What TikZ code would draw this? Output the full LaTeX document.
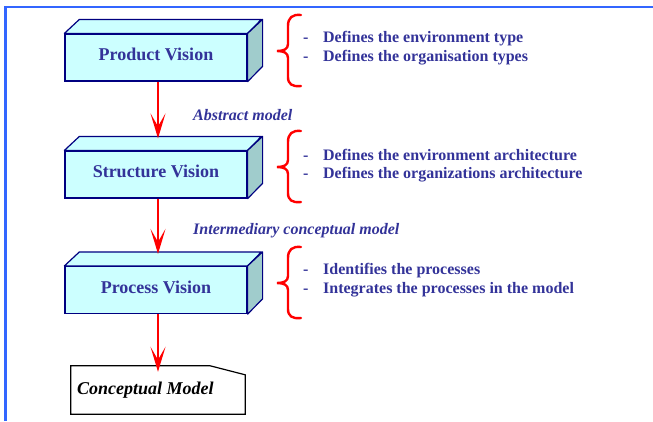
\documentclass[tikz,border=0pt]{standalone}
\usepackage{fontspec}
\setmainfont{Liberation Serif}
\usetikzlibrary{arrows.meta}
\definecolor{txtblue}{RGB}{51,51,153}
\definecolor{navy}{RGB}{0,0,128}
\definecolor{boxfront}{RGB}{204,255,255}
\definecolor{boxside}{RGB}{160,204,204}
\definecolor{framecol}{RGB}{51,102,255}
\tikzset{
  front/.style={draw=navy, line width=1.2pt, fill=boxfront, minimum width=182pt, minimum height=47pt,
    inner sep=0pt, text=txtblue, font=\fontsize{18}{21}\selectfont\bfseries},
  topface/.style={draw=navy, line width=1.2pt, fill=boxfront, line join=round},
  sideface/.style={draw=navy, line width=1.2pt, fill=boxside, line join=round},
  arr/.style={draw=red, line width=2pt, -{Stealth[length=25pt,width=15pt,inset=13pt]}},
  desc/.style={anchor=west, inner sep=0pt, text=txtblue, font=\fontsize{16}{19}\selectfont\bfseries},
  lbl/.style={anchor=west, inner sep=0pt, text=txtblue, font=\fontsize{16}{19}\selectfont\bfseries\itshape},
  bracestyle/.style={draw=red, line width=2.4pt, line cap=round},
  pics/curlyb/.style={code={
    \draw[bracestyle] (24,-36) .. controls (15,-37) and (11,-33) .. (11,-25) -- (11,-7)
      .. controls (11,-2) and (7,0) .. (0,0) .. controls (7,0) and (11,2) .. (11,7) -- (11,26)
      .. controls (11,33) and (15,36) .. (24,35);
  }}
}
\newcommand{\mkbox}[1]{%
  \draw[topface] (#1.north west) -- ++(15,-14) -- ++(182,0) -- (#1.north east) -- cycle;
  \draw[sideface] (#1.north east) -- ++(15,-14) -- ++(0,47) -- (#1.south east) -- cycle;
}
\newcommand{\lift}[1]{\raisebox{-3pt}[0pt][0pt]{#1}}
\begin{document}
\begin{tikzpicture}[x=1pt,y=-1pt]
\useasboundingbox (0,0) rectangle (653,421);
% frame
\draw[framecol, line width=2.8pt] (5.5,421) -- (5.5,7) -- (653,7);

% boxes
\node[front] (b1) at (156,57.5) {\lift{Product Vision}};
\mkbox{b1}
\node[front] (b2) at (156,174.5) {\lift{Structure Vision}};
\mkbox{b2}
\node[front] (b3) at (156,290) {\lift{Process Vision}};
\mkbox{b3}

% conceptual model
\node[minimum width=174pt, minimum height=48pt, inner sep=0pt] (cm) at (158,390) {};
\draw[line width=1.2pt, fill=white] (cm.south west) -- (cm.north west) -- ([xshift=-35pt]cm.north east)
  -- ([yshift=-9pt]cm.north east) -- (cm.south east) -- cycle;
\node[font=\fontsize{18}{21}\selectfont\bfseries\itshape, anchor=west, inner sep=0pt] (cmt) at (77,390) {Conceptual Model};

% arrows
\coordinate (t2) at ([xshift=2pt,yshift=12pt]b2.north);
\coordinate (t3) at ([xshift=2pt,yshift=12pt]b3.north);
\coordinate (t4) at ([yshift=-6pt]cm.north);
\draw[arr] ([xshift=2pt]b1.south) -- (t2);
\draw[arr] ([xshift=2pt]b2.south) -- (t3);
\draw[arr] ([xshift=2pt]b3.south) -- (t4);

% labels
\node[lbl] (l1) at (193,115) {Abstract model};
\node[lbl] (l2) at (193,231) {Intermediary conceptual model};

% braces
\pic at (277,51) {curlyb};
\pic at (277,167) {curlyb};
\pic at (277,283) {curlyb};

% descriptions
\node[desc] (d11) at (303,39) {\makebox[20pt][l]{-}Defines the environment type};
\node[desc] (d12) at (303,58) {\makebox[20pt][l]{-}Defines the organisation types};
\node[desc] (d21) at (303,155) {\makebox[20pt][l]{-}Defines the environment architecture};
\node[desc] (d22) at (303,175) {\makebox[20pt][l]{-}Defines the organizations architecture};
\node[desc] (d31) at (303,271) {\makebox[20pt][l]{-}Identifies the processes};
\node[desc] (d32) at (303,290) {\makebox[20pt][l]{-}Integrates the processes in the model};
\end{tikzpicture}
\end{document}
